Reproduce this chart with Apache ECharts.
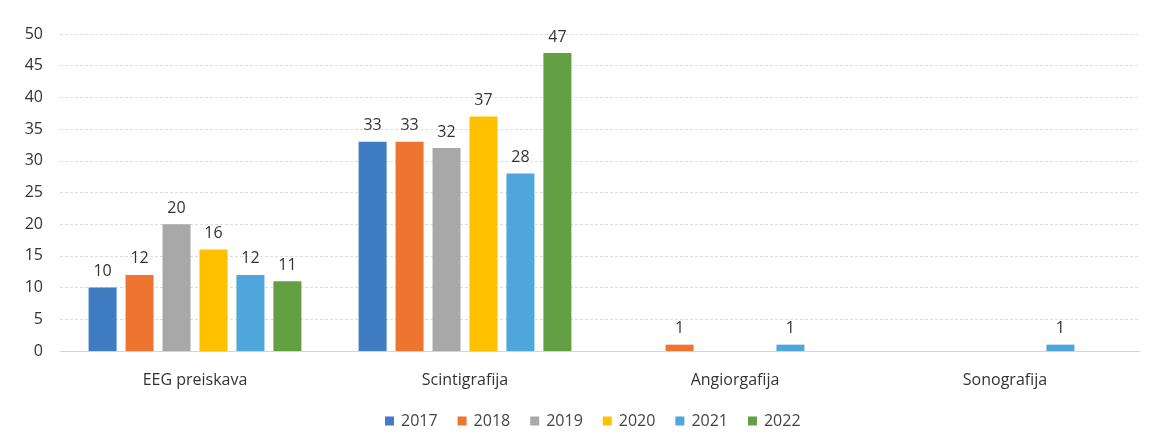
<!DOCTYPE html>
<html>
<head>
<meta charset="utf-8">
<script src="https://cdn.jsdelivr.net/npm/echarts@6/dist/echarts.min.js"></script>
<style>
  html, body { margin: 0; padding: 0; background: #fff; }
  #chart { width: 1157px; height: 445px; }
</style>
</head>
<body>
<div id="chart"></div>
<script>
// kategorije in leta
const categories = ['EEG preiskava', 'Scintigrafija', 'Angiorgafija', 'Sonografija'];
const years = ['2017', '2018', '2019', '2020', '2021', '2022'];
// vrednosti po letih (po kategorijah)
const v2017 = [10, 33, 0, 0];
const v2018 = [12, 33, 1, 0];
const v2019 = [20, 32, 0, 0];
const v2020 = [16, 37, 0, 0];
const v2021 = [12, 28, 1, 1];
const v2022 = [11, 47, 0, 0];
const values = [v2017, v2018, v2019, v2020, v2021, v2022];
const colors = ['#3f7cc2', '#ed7530', '#a8a8a8', '#ffc000', '#4ea6dc', '#62a043'];

const font = '"Open Sans", "Noto Sans", sans-serif';
let myChart = echarts.init(document.getElementById('chart'));

let series = years.map(function (y, i) {
  return {
    name: y,
    type: 'bar',
    barWidth: 28,
    barGap: '32%',
    data: values[i],
    itemStyle: { color: colors[i] },
    label: {
      show: true,
      position: 'top',
      distance: 8,
      color: '#333',
      fontSize: 16,
      fontFamily: font,
      formatter: function (p) { return p.value === 0 ? '' : p.value; }
    }
  };
});

let option = {
  backgroundColor: '#fff',
  animation: false,
  color: colors,
  grid: { left: 60, right: 17, top: 34, bottom: 94 },
  legend: {
    bottom: 11,
    left: 380,
    icon: 'rect',
    itemWidth: 9,
    itemHeight: 9,
    itemGap: 20,
    textStyle: { color: '#444', fontSize: 16, fontFamily: font, padding: [0, 0, 0, 2] }
  },
  xAxis: {
    type: 'category',
    data: categories,
    axisTick: { show: false },
    axisLine: { show: true, lineStyle: { color: '#d4d4d4' } },
    axisLabel: { color: '#333', fontSize: 16, fontFamily: font, margin: 21 }
  },
  yAxis: {
    type: 'value',
    min: 0,
    max: 50,
    interval: 5,
    axisLine: { show: false },
    axisTick: { show: false },
    splitLine: { lineStyle: { color: '#dcdcdc', type: [3, 2] } },
    axisLabel: { color: '#333', fontSize: 16, fontFamily: font, margin: 17 }
  },
  series: series
};
myChart.setOption(option);
</script>
</body>
</html>
